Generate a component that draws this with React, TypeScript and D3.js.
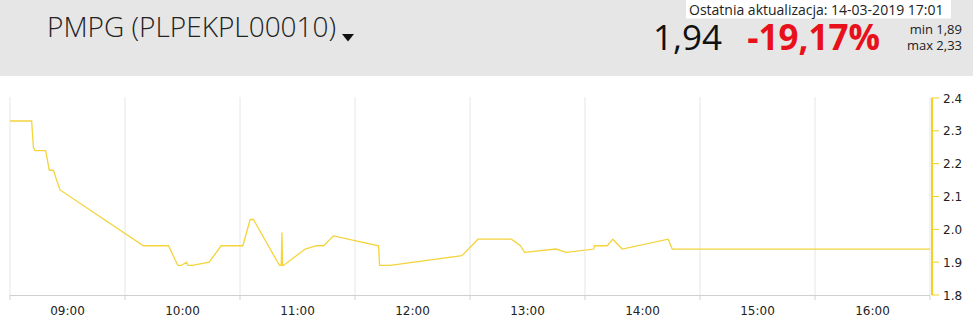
import React from "react";
import * as d3 from "d3";

// minutes since midnight
const times: number[] = [
  510, 521.3, 522.2, 523, 528.6, 530.5, 532.6, 536.1, 579.6, 592.7,
  597.6, 599.3, 602.1, 602.8, 605.2, 613.9, 620.2, 631.5, 635.3, 637.0,
  650.6, 651.5, 651.9, 652.2, 652.7, 664.0, 669.8, 673.6, 678.8, 702.3,
  702.8, 708.4, 745.8, 754.2, 771.6, 776.3, 778.5, 794.9, 800.2, 814.6,
  814.9, 821.6, 824.5, 829.4, 853.4, 855.5, 990,
];
const prices: number[] = [
  2.33, 2.33, 2.25, 2.24, 2.24, 2.18, 2.18, 2.12, 1.95, 1.95,
  1.89, 1.89, 1.9, 1.89, 1.89, 1.9, 1.95, 1.95, 2.03, 2.03,
  1.89, 1.89, 1.99, 1.89, 1.89, 1.94, 1.95, 1.95, 1.98, 1.95,
  1.89, 1.89, 1.92, 1.97, 1.97, 1.95, 1.93, 1.94, 1.93, 1.94,
  1.95, 1.95, 1.97, 1.94, 1.97, 1.94, 1.94,
];
const gridTimes: number[] = [510, 570, 630, 690, 750, 810, 870, 930, 990];
const hourLabels: string[] = ["09:00", "10:00", "11:00", "12:00", "13:00", "14:00", "15:00", "16:00"];
const hourTimes: number[] = [540, 600, 660, 720, 780, 840, 900, 960];
const yTicks: number[] = [1.8, 1.9, 2.0, 2.1, 2.2, 2.3, 2.4];

const title = "PMPG (PLPEKPL00010)";
const updateText = "Ostatnia aktualizacja: 14-03-2019 17:01";
const lastPrice = "1,94";
const changeText = "-19,17%";
const minText = "min 1,89";
const maxText = "max 2,33";

export default function App() {
  const W = 973, H = 324;
  const x = d3.scaleLinear().domain([510, 990]).range([10, 930]);
  const y = d3.scaleLinear().domain([1.8, 2.4]).range([295, 98]);
  const data = times.map((t, i) => [t, prices[i]] as [number, number]);
  const line = d3.line<[number, number]>().x((d) => x(d[0])).y((d) => y(d[1]));
  const axisX = 932;
  const yellow = "#f5d01f";
  const lineColor = "#f3d43c";
  const sans = "'Open Sans', sans-serif";
  const axisFont = "'DejaVu Sans', Verdana, sans-serif";

  return (
    <svg width={W} height={H} style={{ position: "absolute", left: 0, top: 0, background: "#fff" }}>
      <rect x={0} y={0} width={W} height={76} fill="#e6e6e6" />
      <text x={47} y={37} fontFamily={sans} fontWeight={300} fontSize={28} fill="#222">{title}</text>
      <path d="M342,34 L354,34 L348,41.5 Z" fill="#111" />
      <rect x={686} y={0} width={265} height={18.5} fill="#fff" />
      <text x={689} y={14.5} fontFamily={sans} fontSize={14} fill="#222">{updateText}</text>
      <text x={722} y={50} textAnchor="end" fontFamily={sans} fontSize={35} fill="#111">{lastPrice}</text>
      <text x={880} y={50} textAnchor="end" fontFamily={sans} fontWeight={700} fontSize={35} fill="#e8101a">{changeText}</text>
      <text x={962} y={33.5} textAnchor="end" fontFamily={sans} fontSize={13} fill="#222">{minText}</text>
      <text x={962} y={50} textAnchor="end" fontFamily={sans} fontSize={13} fill="#222">{maxText}</text>

      {gridTimes.map((t) => (
        <g key={t}>
          <line x1={x(t)} x2={x(t)} y1={97} y2={295} stroke="#e6e6e6" strokeWidth={1} />
          <line x1={x(t)} x2={x(t)} y1={295} y2={300} stroke="#d0d0d0" strokeWidth={1} />
        </g>
      ))}
      <line x1={10} x2={930} y1={295.5} y2={295.5} stroke="#d0d0d0" strokeWidth={1} />
      {hourLabels.map((l, i) => (
        <text key={l} x={x(hourTimes[i])} y={315} textAnchor="middle" fontFamily={axisFont} fontSize={12} fill="#222">{l}</text>
      ))}

      <path d={line(data) || ""} fill="none" stroke={lineColor} strokeWidth={1.3} />

      <line x1={axisX} x2={axisX} y1={y(2.4)} y2={y(1.8)} stroke={yellow} strokeWidth={2} />
      {yTicks.map((v) => (
        <g key={v}>
          <line x1={axisX} x2={axisX + 7} y1={y(v)} y2={y(v)} stroke={yellow} strokeWidth={1} />
          <text x={943} y={y(v) + 4.5} fontFamily={axisFont} fontSize={12} fill="#222">{v.toFixed(1)}</text>
        </g>
      ))}
    </svg>
  );
}
